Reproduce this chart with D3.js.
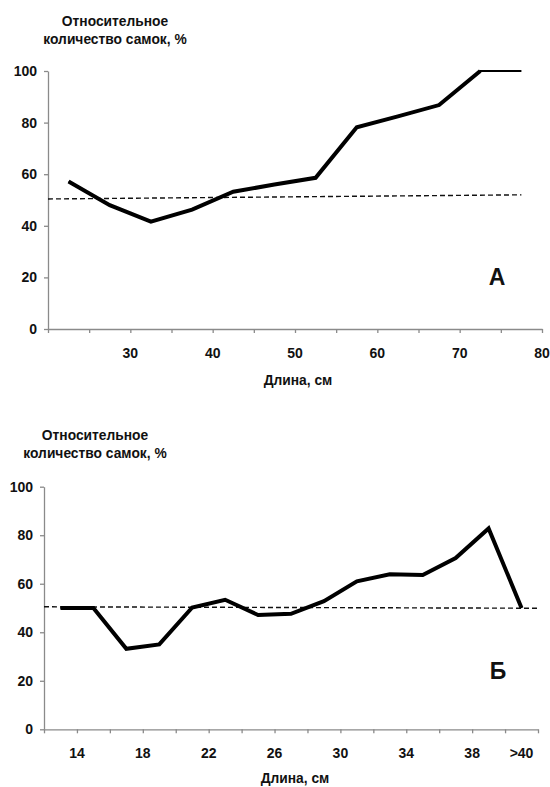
<!DOCTYPE html>
<html>
<head>
<meta charset="utf-8">
<script src="https://cdn.jsdelivr.net/npm/d3@7"></script>
<style>
  body { margin: 0; background: #fff; }
  text { font-family: "Liberation Sans", Arial, sans-serif; font-weight: bold; fill: #111; }
</style>
</head>
<body>
<div id="chart-area"></div>
<script>
// panel A data
const lengthA = [22.5, 27.5, 32.5, 37.5, 42.5, 47.5, 52.5, 57.5, 62.5, 67.5, 72.5, 77.5];
const femalesA = [57.2, 48, 41.6, 46.3, 53.2, 56, 58.6, 78.2, 82.4, 86.8, 100, 100];
const trendXA = [20, 77.5];
const trendYA = [50.4, 52];
const tickPosA = [20, 25, 30, 35, 40, 45, 50, 55, 60, 65, 70, 75, 80];
const labelPosA = [30, 40, 50, 60, 70, 80];
const labelTextA = ["30", "40", "50", "60", "70", "80"];

// panel Б data
const lengthB = [13, 15, 17, 19, 21, 23, 25, 27, 29, 31, 33, 35, 37, 39, 41];
const femalesB = [50, 50, 33.2, 35, 50.2, 53.4, 47.1, 47.6, 52.8, 61, 63.9, 63.6, 70.6, 82.8, 50];
const trendXB = [12, 42];
const trendYB = [50.5, 49.9];
const tickPosB = [12, 14, 16, 18, 20, 22, 24, 26, 28, 30, 32, 34, 36, 38, 40, 42];
const labelPosB = [14, 18, 22, 26, 30, 34, 38, 41];
const labelTextB = ["14", "18", "22", "26", "30", "34", "38", ">40"];

const yTicks = [0, 20, 40, 60, 80, 100];

const svg = d3.select("#chart-area")
  .append("svg")
  .attr("width", 550)
  .attr("height", 787);

function drawPanel(p) {
  const x = d3.scaleLinear().domain(p.xDomain).range([p.left, p.right]);
  const y = d3.scaleLinear().domain([0, 100]).range([p.bottom, p.top]);
  const g = svg.append("g");

  // y axis
  const yAxis = g.append("g")
    .attr("transform", `translate(${p.left}, 0)`)
    .call(d3.axisLeft(y).tickValues(yTicks).tickSize(4).tickPadding(7).tickSizeOuter(0));
  yAxis.selectAll("text").attr("font-size", "14px").attr("fill", "#111");

  // x axis
  g.append("g")
    .attr("transform", `translate(0, ${p.bottom})`)
    .call(d3.axisBottom(x).tickValues(p.ticks).tickSize(4).tickFormat("").tickSizeOuter(0));

  g.selectAll(".domain, .tick line")
    .attr("stroke", "#8a8a8a")
    .attr("stroke-width", 1.3);

  // x tick labels
  g.selectAll(".xlabel")
    .data(p.labelPos)
    .enter()
    .append("text")
    .attr("class", "xlabel")
    .attr("x", d => x(d))
    .attr("y", p.bottom + 28.5)
    .attr("text-anchor", "middle")
    .attr("font-size", "14px")
    .text((d, i) => p.labelText[i]);

  // x-axis label
  g.append("text")
    .attr("x", p.xTitleX)
    .attr("y", p.bottom + p.xTitleDy)
    .attr("text-anchor", "middle")
    .attr("font-size", "13.8px")
    .text("Длина, см");

  // y-axis label (two lines)
  const yl = g.append("text")
    .attr("x", p.yTitleX)
    .attr("y", p.yTitleY)
    .attr("text-anchor", "middle")
    .attr("font-size", "13.8px");
  yl.append("tspan").attr("x", p.yTitleX).text("Относительное");
  yl.append("tspan").attr("x", p.yTitleX).attr("dy", 18).text("количество самок, %");

  // dashed trend
  const line = d3.line().x(d => x(d[0])).y(d => y(d[1]));
  g.append("path")
    .datum(p.trendX.map((v, i) => [v, p.trendY[i]]))
    .attr("d", line)
    .attr("fill", "none")
    .attr("stroke", "#111")
    .attr("stroke-width", 1.4)
    .attr("stroke-dasharray", "5,3");

  // main line
  const pts = p.xs.map((v, i) => [v, p.ys[i]]);
  g.append("path")
    .datum(pts)
    .attr("d", line)
    .attr("fill", "none")
    .attr("stroke", "#000")
    .attr("stroke-width", 2.2)
    .attr("stroke-linejoin", "miter");
  g.append("path")
    .datum(pts.slice(0, p.thickUpTo))
    .attr("d", line)
    .attr("fill", "none")
    .attr("stroke", "#000")
    .attr("stroke-width", 4)
    .attr("stroke-linejoin", "miter");

  // panel letter
  g.append("text")
    .attr("x", p.letterX)
    .attr("y", p.letterY)
    .attr("text-anchor", "middle")
    .attr("font-size", "23px")
    .text(p.letter);
}

drawPanel({
  xDomain: [20, 80], left: 48, right: 542, top: 71, bottom: 329,
  ticks: tickPosA, labelPos: labelPosA, labelText: labelTextA,
  xs: lengthA, ys: femalesA, trendX: trendXA, trendY: trendYA, thickUpTo: 11,
  xTitleX: 298, xTitleDy: 56, yTitleX: 115, yTitleY: 26,
  letter: "А", letterX: 497, letterY: 285
});

drawPanel({
  xDomain: [12, 42], left: 44, right: 538, top: 486.7, bottom: 729.3,
  ticks: tickPosB, labelPos: labelPosB, labelText: labelTextB,
  xs: lengthB, ys: femalesB, trendX: trendXB, trendY: trendYB, thickUpTo: lengthB.length,
  xTitleX: 295, xTitleDy: 54, yTitleX: 95, yTitleY: 440,
  letter: "Б", letterX: 498, letterY: 679
});
</script>
</body>
</html>
